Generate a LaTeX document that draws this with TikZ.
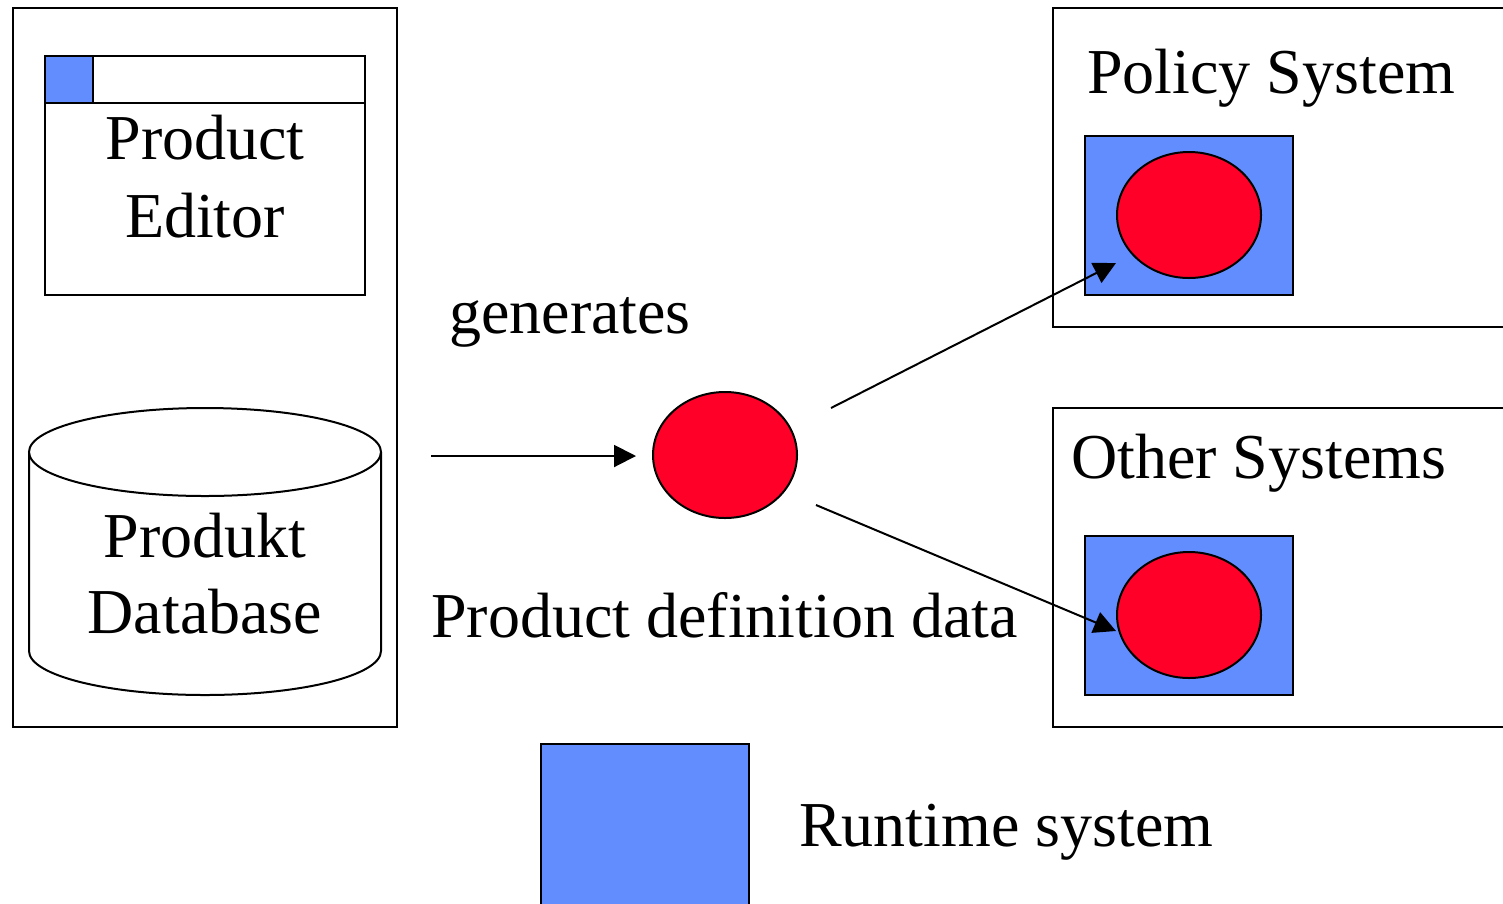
\documentclass[tikz,border=0pt]{standalone}
\usepackage{fontspec}
\setmainfont{Liberation Serif}
\usetikzlibrary{shapes.geometric,arrows.meta}
\definecolor{rtblue}{RGB}{97,141,255}
\definecolor{dred}{RGB}{255,0,41}
\begin{document}
\begin{tikzpicture}[x=1pt,y=-1pt,
  frame/.style={draw=black,line width=2.5pt,outer sep=0pt},
  lbl/.style={font=\fontsize{64}{78}\selectfont,inner sep=0pt},
  datum/.style={ellipse,draw=black,line width=2pt,fill=dred,minimum width=144pt,minimum height=126pt,inner sep=0pt,outer sep=0pt},
  runtime/.style={draw=black,line width=2.5pt,fill=rtblue,inner sep=0pt,outer sep=0pt,anchor=north west},
  flow/.style={line width=2pt,-{Triangle[length=22pt,width=22pt]}}]
\useasboundingbox (0,0) rectangle (1503,903);
\fill[white] (0,0) rectangle (1503,903);

% left tool box
\node[frame,anchor=north west,minimum width=384pt,minimum height=719pt,inner sep=0pt] (tool) at (13,8) {};

% product editor window
\node[frame,anchor=north west,minimum width=320pt,minimum height=239pt,inner sep=0pt] (editor) at (45,56) {};
\node[runtime,minimum width=48pt,minimum height=47pt] (editoricon) at (45,56) {};
\draw[line width=2.5pt] (45,103) -- (365,103);
\node[lbl,anchor=base] (ed1) at (205,159) {Product};
\node[lbl,anchor=base] (ed2) at (205,237) {Editor};

% database cylinder
\draw[line width=2pt,fill=white] (29,452) -- (29,651)
  .. controls (29,675.3) and (107.8,695) .. (205,695)
  .. controls (302.2,695) and (381,675.3) .. (381,651) -- (381,452);
\node[ellipse,draw=black,line width=2pt,fill=white,minimum width=352pt,minimum height=88pt,inner sep=0pt,outer sep=0pt] (dbtop) at (205,452) {};
\node[lbl,anchor=base] (db1) at (205,557) {Produkt};
\node[lbl,anchor=base] (db2) at (205,633) {Database};

% central data
\node[datum] (data) at (725,455) {};
\node[lbl,anchor=base west] (gen) at (449,333) {generates};
\node[lbl,anchor=base west] (pdd) at (431,637) {Product definition data};

% policy system
\draw[frame] (1515,8) -| (1053,327) -- (1515,327);
\node[lbl,anchor=base west] (pol) at (1087,93) {Policy System};
\node[runtime,minimum width=208pt,minimum height=159pt] (polrt) at (1085,136) {};
\node[datum] (poldata) at (1189,215) {};

% other systems
\draw[frame] (1515,408) -| (1053,727) -- (1515,727);
\node[lbl,anchor=base west] (oth) at (1071,478) {Other Systems};
\node[runtime,minimum width=208pt,minimum height=159pt] (othrt) at (1085,536) {};
\node[datum] (othdata) at (1189,615) {};

% arrows
\coordinate (gsrc) at (431,456);
\coordinate (gdst) at (636,456);
\draw[flow] (gsrc) -- (gdst);
\coordinate (o1) at (831,408);
\coordinate (p1) at (1116,263);
\draw[flow] (o1) -- (p1);
\coordinate (o2) at (816,505);
\coordinate (p2) at (1116,631);
\draw[flow] (o2) -- (p2);

% legend
\node[runtime,minimum width=208pt,minimum height=175pt] (legend) at (541,744) {};
\node[lbl,anchor=base west] (leg) at (799,846) {Runtime system};
\end{tikzpicture}
\end{document}
